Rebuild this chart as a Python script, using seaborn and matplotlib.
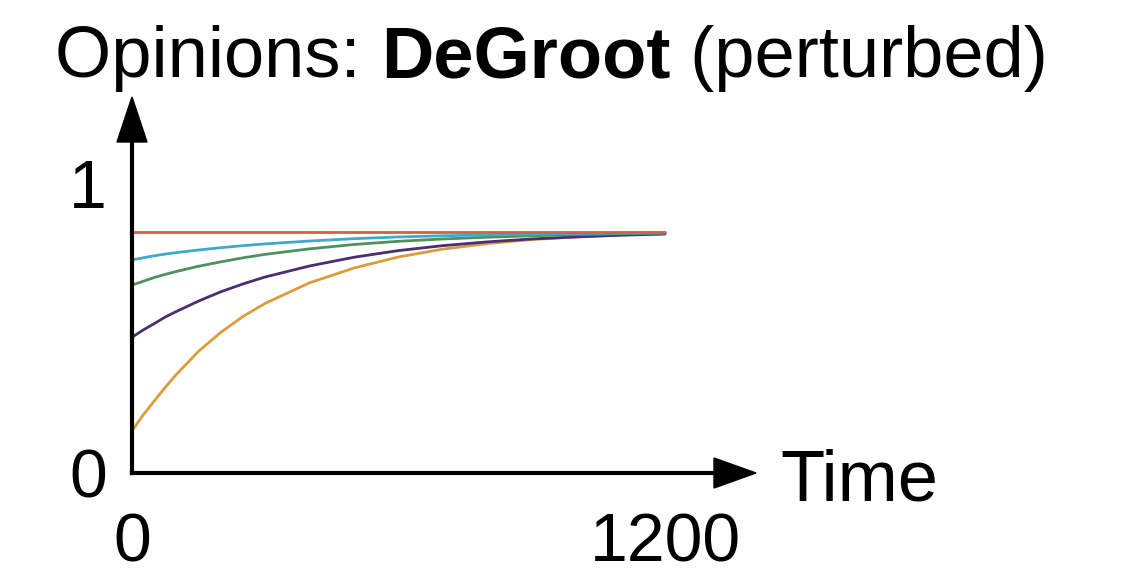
import matplotlib
matplotlib.use("Agg")
import matplotlib.pyplot as plt
import seaborn as sns
import pandas as pd
from matplotlib.patches import Polygon

# ---- data ----
time = [0, 25, 50, 75, 100, 150, 200, 250, 300, 400, 500, 600, 700, 800, 900, 1000, 1100, 1200]
red    = [0.83] * 18
cyan   = [0.735, 0.742, 0.749, 0.755, 0.760, 0.769, 0.777, 0.784, 0.790, 0.800, 0.808, 0.814, 0.818, 0.821, 0.824, 0.826, 0.827, 0.828]
green  = [0.648, 0.661, 0.674, 0.685, 0.695, 0.713, 0.728, 0.742, 0.754, 0.773, 0.788, 0.799, 0.807, 0.813, 0.818, 0.822, 0.825, 0.827]
purple = [0.468, 0.493, 0.515, 0.538, 0.557, 0.593, 0.625, 0.652, 0.676, 0.714, 0.744, 0.767, 0.784, 0.797, 0.807, 0.814, 0.820, 0.824]
orange = [0.145, 0.200, 0.248, 0.296, 0.340, 0.420, 0.485, 0.540, 0.585, 0.656, 0.707, 0.745, 0.772, 0.791, 0.805, 0.814, 0.821, 0.825]
series_names = ["orange", "purple", "green", "cyan", "red"]
series_values = [orange, purple, green, cyan, red]
colors = {"orange": "#dc9c3c", "purple": "#4a2e70", "green": "#4e9060",
          "cyan": "#42a8c8", "red": "#d2604a"}
x_ticks = [0, 1200]
x_tick_labels = ["0", "1200"]
y_ticks = [0, 1]
y_tick_labels = ["0", "1"]

rows = []
for name, vals in zip(series_names, series_values):
    for t, v in zip(time, vals):
        rows.append({"time": t, "opinion": v, "agent": name})
df = pd.DataFrame(rows)

sns.set_style("white")
plt.rcParams["font.family"] = ["Liberation Sans", "DejaVu Sans"]
plt.rcParams["text.color"] = "black"

W, H = 1121, 569
fig = plt.figure(figsize=(W / 100, H / 100), dpi=100)

# axes placement in pixels
x0_px, x1_px = 132, 755   # y-axis position, x arrow tip
y0_px, y1_px = 473, 98    # x-axis position, y arrow tip
ax = fig.add_axes([x0_px / W, 1 - y0_px / H, (x1_px - x0_px) / W, (y0_px - y1_px) / H])

sns.lineplot(data=df, x="time", y="opinion", hue="agent", palette=colors,
             hue_order=series_names, ax=ax, linewidth=2.0, legend=False,
             estimator=None, sort=False)

ax.set_xlim(0, 1200 * (x1_px - x0_px) / (665 - x0_px))
ax.set_ylim(0, (y0_px - y1_px) / 290)

for s in ["top", "right"]:
    ax.spines[s].set_visible(False)
lw_axis = 3.0
for s in ["left", "bottom"]:
    ax.spines[s].set_linewidth(lw_axis)
    ax.spines[s].set_color("black")
ax.spines["left"].set_bounds(0, (y0_px - 125) / 290)
ax.spines["bottom"].set_bounds(0, 1200 * (725 - x0_px) / (665 - x0_px))

ax.set_xticks(x_ticks)
ax.set_xticklabels(x_tick_labels)
ax.set_yticks(y_ticks)
ax.set_yticklabels(y_tick_labels)
ax.tick_params(axis="x", direction="in", length=12, width=2.5, colors="black",
               labelsize=49, pad=28)
ax.tick_params(axis="y", direction="in", length=13, width=2.5, colors="black",
               labelsize=49, pad=18)
ax.set_xlabel("")
ax.set_ylabel("")
ax.grid(False)

# arrowheads (figure pixel coords)
def px(x, y):
    return (x / W, 1 - y / H)

fig.patches.append(Polygon([px(117, 142), px(147, 142), px(132, 97)], closed=True,
                           transform=fig.transFigure, color="black", figure=fig))
fig.patches.append(Polygon([px(714, 458), px(714, 488), px(756, 473)], closed=True,
                           transform=fig.transFigure, color="black", figure=fig))

fig.text(780 / W, 1 - 482 / H, "Time", fontsize=52, ha="left", va="center")

# title with bold middle part
ty = 1 - 58 / H
t1 = fig.text(55 / W, ty, "Opinions: ", fontsize=52, ha="left", va="center")
fig.canvas.draw()
r = fig.canvas.get_renderer()
bb = t1.get_window_extent(r)
t2 = fig.text(bb.x1 / W, ty, "DeGroot", fontsize=52, ha="left", va="center",
              fontweight="bold")
bb2 = t2.get_window_extent(r)
fig.text(bb2.x1 / W, ty, " (perturbed)", fontsize=52, ha="left", va="center")

fig.savefig("out.png", dpi=100)
